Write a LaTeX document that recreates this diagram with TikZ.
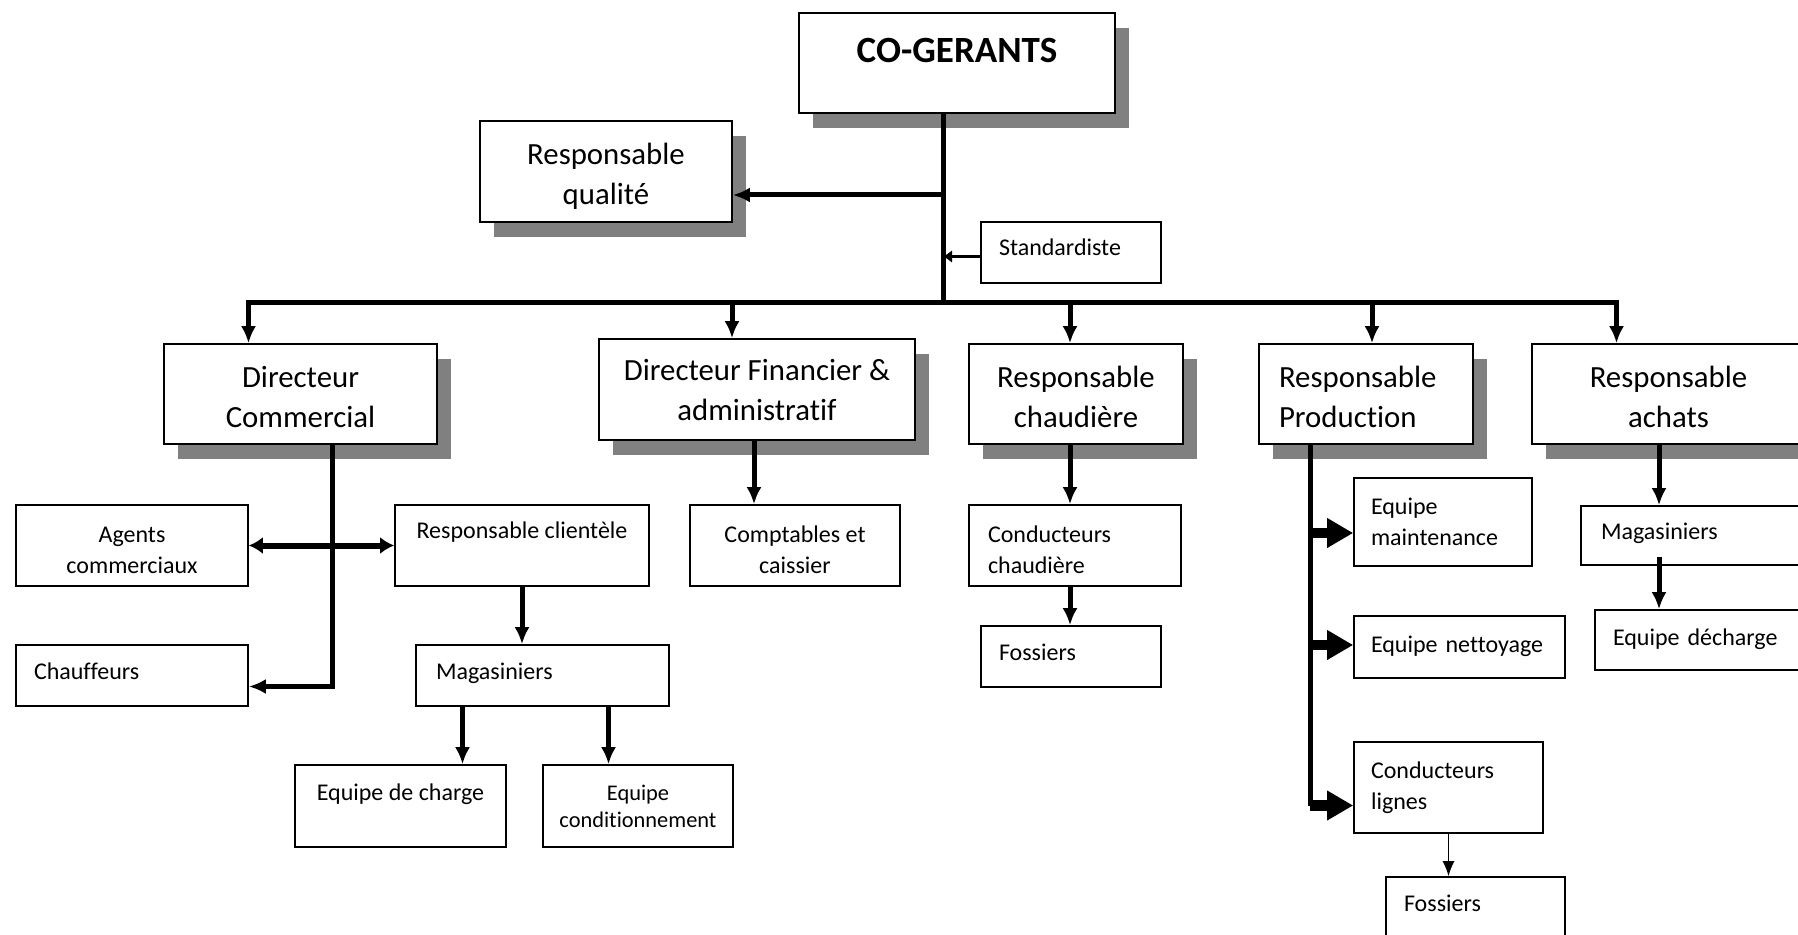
\documentclass[tikz,border=0pt]{standalone}
\usepackage{fontspec}
\setmainfont{Carlito}[Ligatures = NoCommon]
\usetikzlibrary{arrows.meta,shadows}

\begin{document}
\begin{tikzpicture}[
                x = 0.5pt, y = -0.5pt,
                box/.style = {draw, line width = 0.8pt, fill = white, inner sep = 0pt, align = center},
                big/.style = {font = \fontsize{15.4}{20}\selectfont, text height = 33.7pt, text depth = 0.5pt},
                small/.style = {font = \fontsize{12}{15.5}\selectfont},
                one/.style = {text height = 8.3pt, text depth = 4.8pt},
                onelow/.style = {text height = 8.3pt, text depth = 2.5pt},
                shdw/.style = {drop shadow = {shadow xshift = 7pt, shadow yshift = -7.5pt, fill = black!50, opacity = 1}},
                ltxt/.style = {align = left, inner xsep = #1},
                toptxt/.style 2 args = {text height = #1, text depth = #2},
                conn/.style = {draw, line width = 2.5pt},
                arr/.style = {draw, line width = 2.5pt, -{Latex[length = 8.5pt, width = 7.5pt]}},
                arrs/.style = {draw, line width = 1.6pt, -{Latex[length = 4.5pt, width = 6.5pt]}},
                dbl/.style = {draw, line width = 3pt, {Latex[length = 7pt, width = 8.5pt]}-{Latex[length = 7pt, width = 8.5pt]}},
                blk/.style = {draw, line width = 5.3pt, -{Triangle[length = 13pt, width = 14pt]}},
                fine/.style = {draw, line width = 0.7pt, -{Latex[length = 7.5pt, width = 6pt]}},
            ]
            \useasboundingbox (0, 0) rectangle (1798, 935);

            \node (cog) at (957, 63) [box, shdw, toptxt = {25pt}{25pt}, minimum width = 158pt, minimum height = 50pt, font = \fontsize{18.5}{22}\selectfont\bfseries] {CO-GERANTS};
            \node (qual) at (606, 171.5) [box, shdw, big, minimum width = 126pt, minimum height = 50.5pt] {Responsable\\qualité};
            \node (stand) at (1071, 252.5) [box, small, one, ltxt = 9pt, text width = 72pt, minimum height = 30.5pt] {Standardiste};

            \node (dcom) at (300.5, 394) [box, shdw, big, minimum width = 136.5pt, minimum height = 50pt] {Directeur\\Commercial};
            \node (dfin) at (757, 389.5) [box, shdw, big, toptxt = {32.5pt}{1.6pt}, minimum width = 158pt, minimum height = 50.5pt] {Directeur Financier \&\\administratif};
            \node (rch) at (1076, 394) [box, shdw, big, minimum width = 107pt, minimum height = 50pt] {Responsable\\chaudière};
            \node (rprod) at (1366, 394) [box, shdw, big, toptxt = {13.2pt}{20pt}, ltxt = 10pt, text width = 87pt, minimum height = 50pt] {Responsable\\Production};
            \node (rach) at (1668.5, 394) [box, shdw, big, minimum width = 136.5pt, minimum height = 50pt] {Responsable\\achats};

            \node (agents) at (132, 545.5) [box, small, toptxt = {34.3pt}{6.2pt}, minimum width = 116pt, minimum height = 40.5pt] {Agents\\commerciaux};
            \node (rcli) at (522, 545.5) [box, small, toptxt = {16.5pt}{24pt}, minimum width = 127pt, minimum height = 40.5pt] {Responsable clientèle};
            \node (chauf) at (132, 675.5) [box, small, one, ltxt = 9pt, text width = 98pt, minimum height = 30.5pt] {Chauffeurs};
            \node (magL) at (542.5, 675.5) [box, small, one, ltxt = 10pt, text width = 106.5pt, minimum height = 30.5pt] {Magasiniers};
            \node (eqch) at (400.5, 806) [box, small, toptxt = {17.5pt}{23.5pt}, minimum width = 105.5pt, minimum height = 41pt] {Equipe de charge};
            \node (eqcond) at (638, 806) [box, minimum width = 95pt, minimum height = 41pt, font = \fontsize{11.2}{13.5}\selectfont] {Equipe\\conditionnement};
            \node (compt) at (795, 545.5) [box, small, toptxt = {34.3pt}{6.2pt}, minimum width = 105pt, minimum height = 40.5pt] {Comptables et\\caissier};

            \node (cch) at (1075, 545.5) [box, small, toptxt = {18.8pt}{21.7pt}, ltxt = 9.5pt, text width = 87pt, minimum height = 40.5pt] {Conducteurs\\chaudière};
            \node (foss1) at (1071, 656.5) [box, small, one, ltxt = 9pt, text width = 72pt, minimum height = 30.5pt] {Fossiers};

            \node (eqmaint) at (1443, 522) [box, small, ltxt = 8.5pt, text width = 72pt, minimum height = 44pt] {Equipe\\maintenance};
            \node (eqnet) at (1459.5, 647) [box, small, onelow, ltxt = 8.5pt, text width = 88.5pt, minimum height = 31pt] {Equipe nettoyage};
            \node (clig) at (1448.5, 787.5) [box, small, ltxt = 8.5pt, text width = 77.5pt, minimum height = 45.5pt] {Conducteurs\\lignes};
            \node (foss2) at (1475.5, 907.5) [box, small, one, ltxt = 9pt, text width = 71.5pt, minimum height = 30.5pt] {Fossiers};

            \node (magR) at (1707.5, 535.5) [box, small, one, ltxt = 10pt, text width = 106.5pt, minimum height = 29.5pt] {Magasiniers};
            \node (eqdec) at (1700.5, 640) [box, small, onelow, ltxt = 9pt, text width = 87.5pt, minimum height = 30pt] {Equipe décharge};

            % trunk and bus
            \coordinate (t) at (943, 303);
            \coordinate (tq) at (943, 195);
            \path[conn] ([xshift = -7pt]cog.south) -- (t);
            \path[arr] (tq) -- (tq -| qual.east);
            \path[arrs] ([yshift = -2pt]stand.west) -- ([yshift = -2pt]stand.west -| t);

            \path[arr] (t) -| ([xshift = -26pt]dcom.north);
            \path[arr] (t) -| ([xshift = -12.5pt]dfin.north);
            \path[arr] (t) -| ([xshift = -3pt]rch.north);
            \path[arr] (t) -| ([xshift = 3pt]rprod.north);
            \path[arr] (t) -| ([xshift = -26pt]rach.north);

            % commercial
            \path[arr] ([xshift = 16pt]dcom.south) |- ([yshift = -5.5pt]chauf.east);
            \path[dbl] (agents) -- (rcli);
            \path[arr] (rcli) -- (rcli |- magL.north);
            \path[arr] ([xshift = -40pt]magL.south) -- ([xshift = -40pt]magL.south |- eqch.north);
            \path[arr] ([xshift = 33pt]magL.south) -- ([xshift = 33pt]magL.south |- eqcond.north);

            % financier, chaudiere
            \path[arr] ([xshift = -1.5pt]dfin.south) -- ([xshift = -1.5pt]dfin.south |- compt.north);
            \path[arr] ([xshift = -3pt]rch.south) -- ([xshift = -3pt]rch.south |- cch.north);
            \path[arr] ([xshift = -2.5pt]cch.south) -- ([xshift = -2.5pt]cch.south |- foss1.north);

            % production
            \coordinate (pv) at ([xshift = -28pt]rprod.south);
            \coordinate (m1) at ([yshift = -5.5pt]eqmaint.west);
            \coordinate (m2) at ([yshift = 1pt]eqnet.west);
            \coordinate (m3) at ([yshift = -9pt]clig.west);
            \path[conn] (pv) -- (pv |- m3);
            \path[blk] (pv |- m1) -- (m1);
            \path[blk] (pv |- m2) -- (m2);
            \path[blk] (pv |- m3) -- (m3);
            \path[fine] (clig) -- (clig |- foss2.north);

            % achats
            \coordinate (ach) at ([xshift = -4.75pt]rach.south);
            \path[arr] (ach) -- (ach |- magR.north);
            \path[arr, shorten <= -4.5pt] (ach |- magR.south) -- (ach |- eqdec.north);
        \end{tikzpicture}
\end{document}
